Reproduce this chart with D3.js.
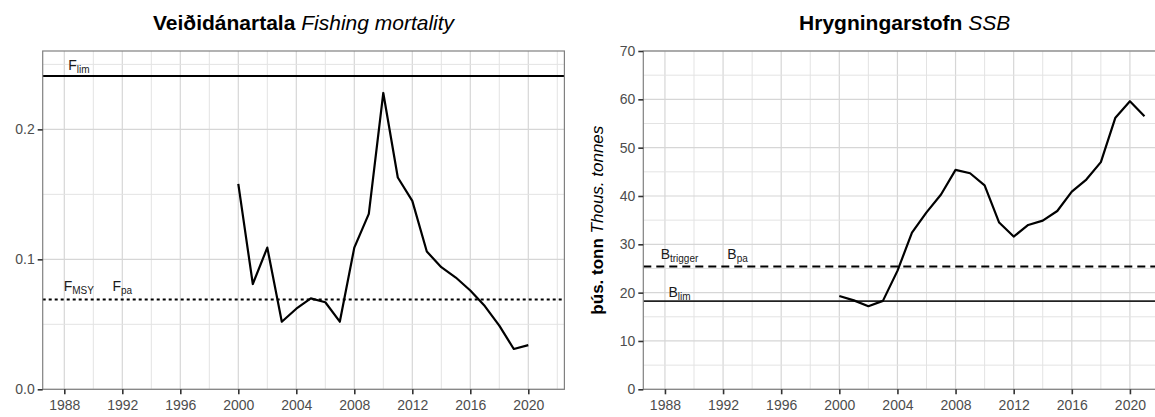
<!DOCTYPE html>
<html>
<head>
<meta charset="utf-8">
<script src="https://cdn.jsdelivr.net/npm/d3@7"></script>
<style>
  body { margin: 0; background: #fff; }
  svg { display: block; font-family: "Liberation Sans", Arial, sans-serif; }
</style>
</head>
<body>
<div id="chart"></div>
<script>
// Fishing mortality (left panel)
const fYears = [2000, 2001, 2002, 2003, 2004, 2005, 2006, 2007, 2008, 2009, 2010,
  2011, 2012, 2013, 2014, 2015, 2016, 2017, 2018, 2019, 2020];
const fValues = [0.158, 0.081, 0.109, 0.052, 0.062, 0.070, 0.067, 0.052, 0.109, 0.135, 0.228,
  0.163, 0.145, 0.106, 0.094, 0.086, 0.076, 0.064, 0.049, 0.031, 0.034];

// Spawning stock biomass (right panel), thousand tonnes
const ssbYears = [2000, 2001, 2002, 2003, 2004, 2005, 2006, 2007, 2008, 2009, 2010,
  2011, 2012, 2013, 2014, 2015, 2016, 2017, 2018, 2019, 2020, 2021];
const ssbValues = [19.3, 18.4, 17.2, 18.3, 24.5, 32.4, 36.6, 40.3, 45.4, 44.7, 42.2,
  34.5, 31.6, 34.0, 34.9, 36.9, 40.9, 43.4, 47.0, 56.2, 59.6, 56.5];

// reference points
const fLim = 0.241;
const fMsy = 0.069;
const bTrigger = 25.4;
const bLim = 18.25;

// reference labels: main letter, subscript, year (centre), value (baseline)
const fLabels = [
  { main: "F", sub: "lim", year: 1989, value: 0.2455 },
  { main: "F", sub: "MSY", year: 1989, value: 0.076 },
  { main: "F", sub: "pa", year: 1992, value: 0.076 }
];
const bLabels = [
  { main: "B", sub: "trigger", year: 1989, value: 27.0 },
  { main: "B", sub: "pa", year: 1993, value: 27.0 },
  { main: "B", sub: "lim", year: 1989, value: 19.0 }
];

// axes
const xTicks = [1988, 1992, 1996, 2000, 2004, 2008, 2012, 2016, 2020];
const xMinor = [1990, 1994, 1998, 2002, 2006, 2010, 2014, 2018, 2022];
const fTicks = [0, 0.1, 0.2];
const fMinor = [0.05, 0.15, 0.25];
const ssbTicks = [0, 10, 20, 30, 40, 50, 60, 70];
const ssbMinor = [5, 15, 25, 35, 45, 55, 65];

const W = 1155, H = 417;
const plotTop = 51, plotBottom = 389.3;

const svg = d3.select("#chart").append("svg")
  .attr("width", W).attr("height", H);

drawPanel({
  x0: 42.7, x1: 564.4,
  yDomain: [0, 0.2603],
  yTicks: fTicks, yMinor: fMinor, yFormat: d3.format(".1f"),
  years: fYears, values: fValues,
  refs: [
    { value: fLim, dash: null, width: 2, color: "#000" },
    { value: fMsy, dash: "3,3", width: 2, color: "#000" }
  ],
  labels: fLabels,
  titleBold: "Veiðidánartala", titleItalic: "Fishing mortality"
});

drawPanel({
  x0: 643.3, x1: 1166.1,
  yDomain: [0, 70],
  yTicks: ssbTicks, yMinor: ssbMinor, yFormat: d3.format("d"),
  years: ssbYears, values: ssbValues,
  refs: [
    { value: bTrigger, dash: "8,5", width: 2, color: "#000" },
    { value: bLim, dash: null, width: 1.8, color: "#222" }
  ],
  labels: bLabels,
  titleBold: "Hrygningarstofn", titleItalic: "SSB",
  ylabBold: "þús. tonn", ylabItalic: "Thous. tonnes"
});

function drawPanel(p) {
  const x = d3.scaleLinear().domain([1986.51, 2022.49]).range([p.x0, p.x1]);
  const y = d3.scaleLinear().domain(p.yDomain).range([plotBottom, plotTop]);

  const g = svg.append("g");

  // grid
  g.selectAll(".vminor").data(xMinor).enter().append("line")
    .attr("x1", d => x(d)).attr("x2", d => x(d))
    .attr("y1", plotTop).attr("y2", plotBottom)
    .attr("stroke", "#e3e3e3").attr("stroke-width", 1);
  g.selectAll(".vmajor").data(xTicks).enter().append("line")
    .attr("x1", d => x(d)).attr("x2", d => x(d))
    .attr("y1", plotTop).attr("y2", plotBottom)
    .attr("stroke", "#d6d6d6").attr("stroke-width", 1.2);
  g.selectAll(".hminor").data(p.yMinor).enter().append("line")
    .attr("x1", p.x0).attr("x2", p.x1)
    .attr("y1", d => y(d)).attr("y2", d => y(d))
    .attr("stroke", "#e3e3e3").attr("stroke-width", 1);
  g.selectAll(".hmajor").data(p.yTicks).enter().append("line")
    .attr("x1", p.x0).attr("x2", p.x1)
    .attr("y1", d => y(d)).attr("y2", d => y(d))
    .attr("stroke", "#d6d6d6").attr("stroke-width", 1.2);

  // reference lines
  p.refs.forEach(function (r) {
    g.append("line")
      .attr("x1", p.x0).attr("x2", p.x1)
      .attr("y1", y(r.value)).attr("y2", y(r.value))
      .attr("stroke", r.color).attr("stroke-width", r.width)
      .attr("stroke-dasharray", r.dash);
  });

  // reference labels
  p.labels.forEach(function (l) {
    const t = g.append("text")
      .attr("x", x(l.year)).attr("y", y(l.value))
      .attr("text-anchor", "middle")
      .attr("fill", "#1a1a1a")
      .style("font-size", "14px");
    t.append("tspan").text(l.main);
    t.append("tspan").attr("dy", 3).style("font-size", "10px").text(l.sub);
  });

  // data line
  const line = d3.line()
    .x((d, i) => x(p.years[i]))
    .y(d => y(d));
  g.append("path")
    .datum(p.values)
    .attr("d", line)
    .attr("fill", "none")
    .attr("stroke", "#000")
    .attr("stroke-width", 2.2)
    .attr("stroke-linejoin", "round");

  // panel border
  g.append("rect")
    .attr("x", p.x0).attr("y", plotTop)
    .attr("width", p.x1 - p.x0).attr("height", plotBottom - plotTop)
    .attr("fill", "none").attr("stroke", "#808080").attr("stroke-width", 1.2);

  // axes
  const xAxis = g.append("g")
    .attr("transform", "translate(0," + plotBottom + ")")
    .call(d3.axisBottom(x).tickValues(xTicks).tickFormat(d3.format("d"))
      .tickSize(5).tickPadding(6));
  const yAxis = g.append("g")
    .attr("transform", "translate(" + p.x0 + ",0)")
    .call(d3.axisLeft(y).tickValues(p.yTicks).tickFormat(p.yFormat)
      .tickSize(5).tickPadding(3));
  [xAxis, yAxis].forEach(function (a) {
    a.select(".domain").remove();
    a.selectAll(".tick line").attr("stroke", "#333").attr("stroke-width", 1.6);
    a.selectAll(".tick text").attr("fill", "#4d4d4d")
      .style("font-size", "14px").style("font-family", "Liberation Sans, Arial, sans-serif");
  });

  // title
  const title = svg.append("text")
    .attr("x", (p.x0 + p.x1) / 2).attr("y", 30)
    .attr("text-anchor", "middle")
    .attr("fill", "#000")
    .style("font-size", "21px");
  title.append("tspan").style("font-weight", "bold").text(p.titleBold + " ");
  title.append("tspan").style("font-style", "italic").text(p.titleItalic);

  // y axis label
  if (p.ylabBold) {
    const yl = svg.append("text")
      .attr("transform", "translate(603," + (plotTop + plotBottom) / 2 + ") rotate(-90)")
      .attr("text-anchor", "middle")
      .attr("fill", "#000")
      .style("font-size", "17px");
    yl.append("tspan").style("font-weight", "bold").text(p.ylabBold + " ");
    yl.append("tspan").style("font-style", "italic").text(p.ylabItalic);
  }
}
</script>
</body>
</html>
